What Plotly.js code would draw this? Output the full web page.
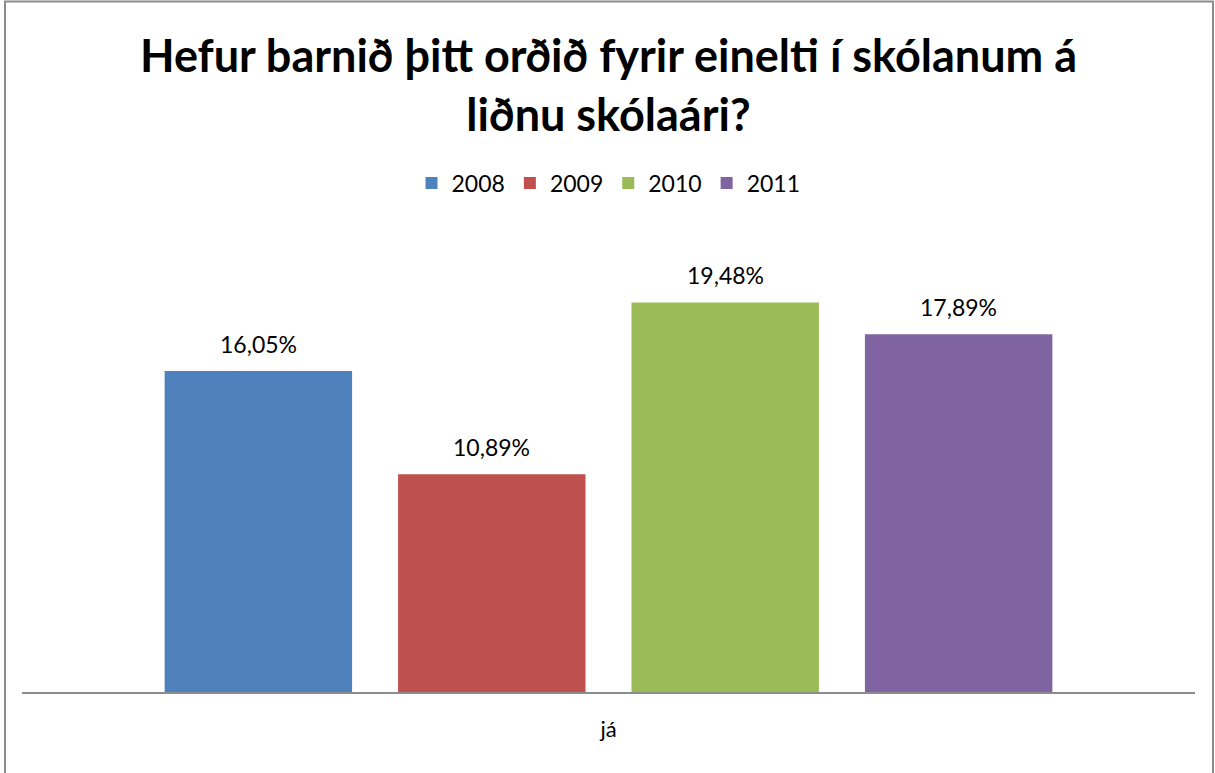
<!DOCTYPE html>
<html>
<head>
<meta charset="utf-8">
<script src="https://cdn.plot.ly/plotly-3.0.1.min.js"></script>
<style>
html,body{margin:0;padding:0;background:#fff;}
#chart{width:1215px;height:773px;}
</style>
</head>
<body>
<div id="chart"></div>
<script>
const categories = ['já'];
const years = ['2008', '2009', '2010', '2011'];
const values2008 = [16.05];
const values2009 = [10.89];
const values2010 = [19.48];
const values2011 = [17.89];
const seriesValues = [values2008, values2009, values2010, values2011];
const colors = ['#4F81BD', '#C0504D', '#9BBB59', '#8064A2'];

const fmt = v => v.toFixed(2).replace('.', ',') + '%';

const bargap = 0.204;
const nSeries = years.length;
const slot = (1 - bargap) / nSeries;

const traces = years.map((yr, i) => ({
  type: 'bar',
  name: yr,
  x: categories.map((c, k) => k),
  y: seriesValues[i],
  marker: {color: colors[i]},
  hoverinfo: 'none'
}));

// data labels placed via the axis scale (bar centre within the group)
const annotations = [];
years.forEach((yr, i) => {
  seriesValues[i].forEach((v, k) => {
    annotations.push({
      x: k + (i - (nSeries - 1) / 2) * slot,
      y: v,
      xref: 'x', yref: 'y',
      text: fmt(v),
      showarrow: false,
      xanchor: 'center', yanchor: 'middle',
      yshift: 27,
      font: {family: 'Lato, sans-serif', size: 23, color: '#000'}
    });
  });
});

const L = 22, R = 1195, T = 212, B = 692, W = 1215, H = 773;
const pw = R - L, ph = B - T;
const px = x => (x - L) / pw;
const py = y => (B - y) / ph;

const layout = {
  width: W, height: H,
  margin: {l: L, r: W - R, t: T, b: H - B, pad: 0},
  paper_bgcolor: '#fff',
  plot_bgcolor: '#fff',
  font: {family: 'Lato, sans-serif', color: '#000'},
  title: {
    text: 'Hefur barnið þitt orðið fyrir einelti í skólanum á<br>liðnu skólaári?',
    font: {family: 'Lato, sans-serif', size: 45, weight: 'bold', color: '#000'},
    x: 0.5, xref: 'paper', xanchor: 'center',
    y: 1 - 72 / H, yref: 'container', yanchor: 'middle',
    pad: {t: 0, b: 0}
  },
  showlegend: true,
  legend: {
    orientation: 'h',
    x: 0.5, xanchor: 'center',
    y: py(183), yanchor: 'middle',
    font: {family: 'Lato, sans-serif', size: 23, color: '#000'},
    itemwidth: 30,
    traceorder: 'normal'
  },
  annotations: annotations,
  barmode: 'group',
  bargap: bargap,
  bargroupgap: 0.197,
  xaxis: {
    range: [-0.5, 0.5],
    tickmode: 'array',
    tickvals: categories.map((c, k) => k),
    ticktext: categories,
    showline: true, linecolor: '#8c8c8c', linewidth: 2,
    showgrid: false, zeroline: false,
    ticks: '', ticklabelstandoff: 17,
    tickfont: {family: 'Lato, sans-serif', size: 22, color: '#000'},
    fixedrange: true
  },
  yaxis: {
    range: [0, 24],
    visible: false,
    showgrid: false, zeroline: false,
    fixedrange: true
  },
  shapes: [{
    type: 'rect', xref: 'paper', yref: 'paper',
    x0: px(5), x1: px(1213), y0: py(1.5), y1: py(790),
    line: {color: '#8c8c8c', width: 2}, fillcolor: 'rgba(0,0,0,0)',
    layer: 'below'
  }]
};

Plotly.newPlot('chart', traces, layout, {displayModeBar: false, staticPlot: true});
</script>
</body>
</html>
